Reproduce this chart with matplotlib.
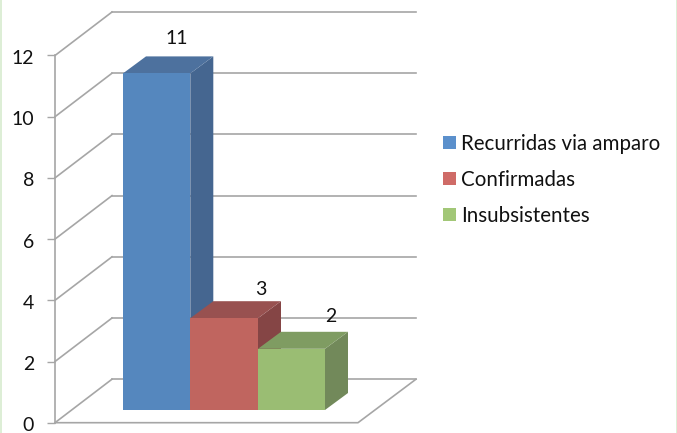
import matplotlib
matplotlib.use("Agg")
import matplotlib.pyplot as plt
from matplotlib.patches import Polygon, Rectangle
from matplotlib.transforms import ScaledTranslation

categories = ["Recurridas via amparo", "Confirmadas", "Insubsistentes"]
values = [11, 3, 2]
y_ticks = [0, 2, 4, 6, 8, 10, 12]

front_colors = ["#5587BE", "#C0655F", "#9ABD73"]
top_colors = ["#4D719E", "#985150", "#7F9C62"]
side_colors = ["#456690", "#854545", "#72895A"]
legend_colors = ["#5B90CC", "#CF6B67", "#A2C777"]

W, H = 677, 433
PX_PER_UNIT = 30.6
ZERO_PX = 422.7
GRID = "#A6A6A6"
LEGEND_FONT = 14.8
VALUE_FONT = 14

plt.rcParams["font.family"] = ["Lato", "DejaVu Sans"]

fig = plt.figure(figsize=(W / 100, H / 100), dpi=100, facecolor="white")
LEFT_PX = 55
ax = fig.add_axes([LEFT_PX / W, 0, 1 - LEFT_PX / W, 1])
ax.set_xlim(LEFT_PX, W)
# y runs in chart units; x runs in figure pixels
ax.set_ylim(-(H - ZERO_PX) / PX_PER_UNIT, ZERO_PX / PX_PER_UNIT)
ax.patch.set_visible(False)

# Pale green slide edges
for x_px, w_px in [(0, 2.2), (W - 1.2, 1.2)]:
    fig.patches.append(Rectangle((x_px / W, 0), w_px / W, 1, transform=fig.transFigure,
                                 facecolor="#DDEED6", edgecolor="none"))


def units(px):
    return px / PX_PER_UNIT


# Oblique depth of the chart box and of the bars
box_dx, box_dy = 57, units(43.5)
bar_dx, bar_dy = 23, units(17)
floor_right = 358
bar_left = [123, 190.3, 258]
bar_width = [67.3, 67.7, 67]
bar_base = units(12.7)
# Value label placement relative to the bar's front centre and back top edge
label_dx = [20, 37, 39]
label_dy = [18, 12, 15]

# Walls and floor
for v in y_ticks:
    ax.plot([LEFT_PX, LEFT_PX + box_dx], [v, v + box_dy], color=GRID, lw=1.2, zorder=1, clip_on=False)
    ax.plot([LEFT_PX + box_dx, floor_right + box_dx + 1], [v + box_dy, v + box_dy], color=GRID, lw=1.2, zorder=1)
ax.plot([LEFT_PX, floor_right, floor_right + box_dx + 1], [0, 0, box_dy], color=GRID, lw=1.2, zorder=1)

# Left axis with its tick marks
for name in ["top", "right", "bottom"]:
    ax.spines[name].set_visible(False)
ax.spines["left"].set_color(GRID)
ax.spines["left"].set_linewidth(1.2)
ax.spines["left"].set_bounds(0, 12)
ax.set_xticks([])
ax.set_yticks(y_ticks)
ax.tick_params(axis="y", length=5.5, width=1.0, color=GRID, pad=9.5,
               labelsize=VALUE_FONT, labelcolor="#111111")
shift_down = ScaledTranslation(0, -1.5 / 100, fig.dpi_scale_trans)
for label in ax.get_yticklabels():
    label.set_transform(label.get_transform() + shift_down)

# Bars: side, top, then front face
for i in range(len(values)):
    x0 = bar_left[i]
    x1 = x0 + bar_width[i]
    top = bar_base + values[i]
    ax.add_patch(Polygon([(x1, bar_base), (x1 + bar_dx, bar_base + bar_dy),
                          (x1 + bar_dx, top + bar_dy), (x1, top)],
                         facecolor=side_colors[i], edgecolor="none", zorder=3 + i))
    ax.add_patch(Polygon([(x0, top), (x1, top), (x1 + bar_dx, top + bar_dy), (x0 + bar_dx, top + bar_dy)],
                         facecolor=top_colors[i], edgecolor="none", zorder=3 + i))
    ax.add_patch(Rectangle((x0, bar_base), bar_width[i], values[i],
                           facecolor=front_colors[i], edgecolor="none", zorder=3 + i))
    ax.text(x0 + bar_width[i] / 2 + label_dx[i], top + bar_dy + units(label_dy[i]), str(values[i]),
            ha="center", va="center", fontsize=VALUE_FONT, color="#111111", zorder=10)

# Legend
legend_rows = [142.5, 178.5, 214.5]
for name, color, row in zip(categories, legend_colors, legend_rows):
    ax.add_patch(Rectangle((443, units(ZERO_PX - row - 6.5)), 13, units(13), facecolor=color, edgecolor="none"))
    ax.text(461, units(ZERO_PX - row - 1.5), name, ha="left", va="center", fontsize=LEGEND_FONT, color="#111111")

fig.savefig("out.png", dpi=100, facecolor=fig.get_facecolor())
